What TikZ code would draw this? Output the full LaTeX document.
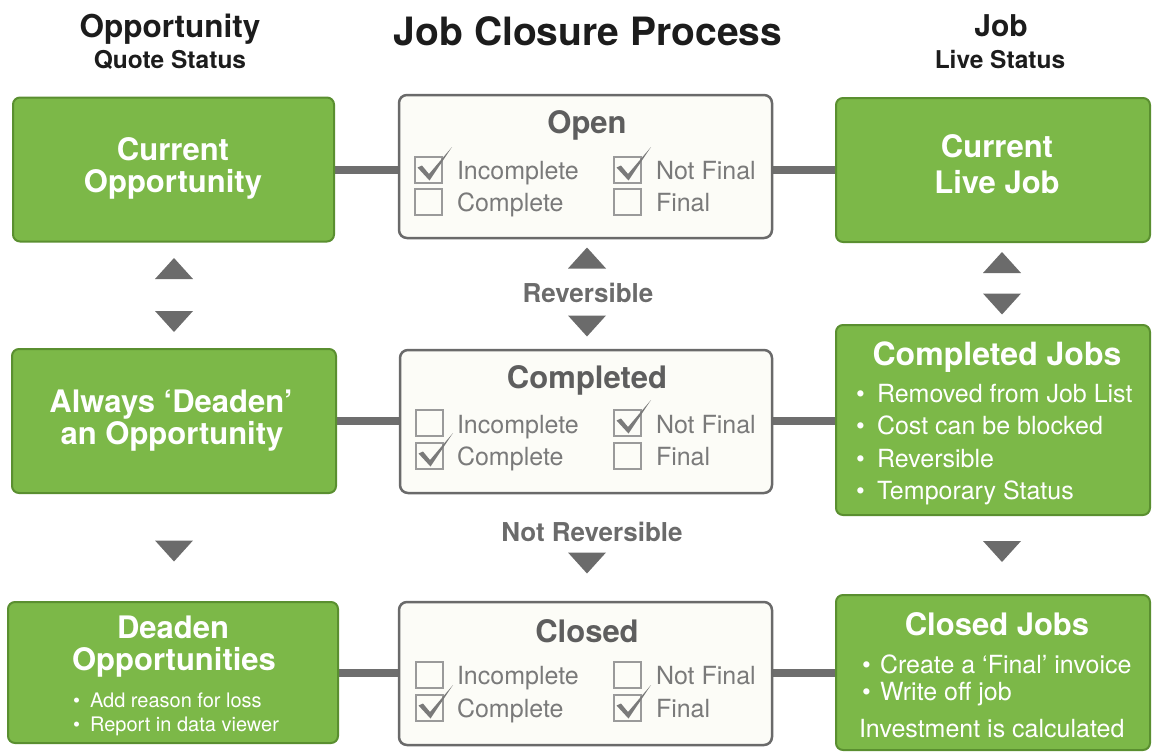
\documentclass[tikz,border=0pt]{standalone}
\usepackage{fontspec}
\setmainfont{TeX Gyre Heros}
\usetikzlibrary{calc}
\definecolor{gfill}{HTML}{7CB848}
\definecolor{gline}{HTML}{5A8F30}
\definecolor{mfill}{HTML}{FCFCF7}
\definecolor{mline}{HTML}{6A6A6A}
\definecolor{conc}{HTML}{6E6E6E}
\definecolor{tric}{HTML}{6B6B6B}
\definecolor{ttlc}{HTML}{5E5E5E}
\definecolor{lblc}{HTML}{7A7A7A}
\definecolor{cbc}{HTML}{9A9A9A}
\definecolor{hdrc}{HTML}{1C1C1C}
\pgfdeclarelayer{bg}
\pgfsetlayers{bg,main}
\newcommand{\fsz}[1]{\fontsize{#1}{#1}\selectfont}
\tikzset{
  gbox/.style={draw=gline, line width=2pt, fill=gfill, rounded corners=7pt, inner sep=0pt, outer sep=0pt},
  mbox/.style={draw=mline, line width=2.5pt, fill=mfill, rounded corners=8pt, inner sep=0pt, outer sep=0pt},
  conn/.style={draw=conc, line width=8pt},
  txt/.style={inner sep=0pt, outer sep=0pt, anchor=base},
  hdr/.style={txt, text=hdrc, font=\bfseries},
  gtitle/.style={txt, text=white, font=\fsz{31}\bfseries},
  gitem/.style={txt, anchor=base west, text=white, font=\fsz{25}},
  mtitle/.style={txt, text=ttlc, font=\fsz{31}\bfseries},
  mlabel/.style={txt, anchor=base west, text=lblc, font=\fsz{25}},
  revlabel/.style={txt, text=tric, font=\fsz{26}\bfseries},
  uptri/.pic={\fill[tric] (-19,10.5) -- (19,10.5) -- (0,-10.5) -- cycle;},
  downtri/.pic={\fill[tric] (-19,-10.5) -- (19,-10.5) -- (0,10.5) -- cycle;},
  emptybox/.pic={\draw[cbc, line width=1.6pt] (0,0) rectangle (27,26);},
  tickbox/.pic={\draw[cbc, line width=1.6pt] (0,0) rectangle (27,26);
     \fill[tric!90] (2.5,10.5) -- (7,8.5) -- (14,17) -- (37,-10) -- (14.5,23.5) -- cycle;}
}
\begin{document}
\begin{tikzpicture}[x=1pt,y=-1pt]
\useasboundingbox (0,0) rectangle (1152,753);
% headers
\node[hdr, font=\fsz{31.5}\bfseries] (hOpp) at (170,37) {Opportunity};
\node[hdr, font=\fsz{24.5}\bfseries] (hOppSub) at (170,68) {Quote Status};
\node[hdr, font=\fsz{39}\bfseries] (hTitle) at (588,45) {Job Closure Process};
\node[hdr, font=\fsz{30}\bfseries] (hJob) at (1001,36) {Job};
\node[hdr, font=\fsz{24.5}\bfseries] (hJobSub) at (1000,68) {Live Status};
% left column boxes
\node[gbox, minimum width=321pt, minimum height=144pt] (curOpp) at (173.5,169.5) {};
\node[gbox, minimum width=324pt, minimum height=144pt] (alwOpp) at (174,421) {};
\node[gbox, minimum width=330pt, minimum height=141pt] (deadOpp) at (173,672.5) {};
% middle boxes
\node[mbox, minimum width=373pt, minimum height=143pt] (open) at (585.5,166.5) {};
\node[mbox, minimum width=372pt, minimum height=143pt] (completed) at (586,421.5) {};
\node[mbox, minimum width=373pt, minimum height=143pt] (closed) at (585.5,673.5) {};
% right column boxes
\node[gbox, minimum width=314pt, minimum height=144pt] (curJob) at (993,170) {};
\node[gbox, minimum width=314pt, minimum height=190pt] (compJobs) at (993,420) {};
\node[gbox, minimum width=314pt, minimum height=155pt] (closedJobs) at (993,672.5) {};
% connectors
\begin{pgfonlayer}{bg}
\draw[conn] (curOpp.center) -- (curOpp.center -| open.center) -- (curOpp.center -| curJob.center);
\draw[conn] (alwOpp.center) -- (alwOpp.center -| completed.center) -- (alwOpp.center -| compJobs.center);
\draw[conn] (deadOpp.center) -- (deadOpp.center -| closed.center) -- (deadOpp.center -| closedJobs.center);
\end{pgfonlayer}
% green texts
\node[gtitle] (t1a) at (173,160) {Current};
\node[gtitle] (t1b) at (173,192) {Opportunity};
\node[gtitle] (t2a) at (171,412) {Always ‘Deaden’};
\node[gtitle] (t2b) at (172,444) {an Opportunity};
\node[gtitle] (t3a) at (173,638) {Deaden};
\node[gtitle] (t3b) at (174,670) {Opportunities};
\node[gitem, font=\fsz{20}] (t3c) at (73,707) {\makebox[17pt][l]{•}Add reason for loss};
\node[gitem, font=\fsz{20}] (t3d) at (73,731) {\makebox[17pt][l]{•}Report in data viewer};
\node[gtitle] (r1a) at (997,157) {Current};
\node[gtitle] (r1b) at (997,193) {Live Job};
\node[gtitle, font=\fsz{32}\bfseries] (r2a) at (997,365) {Completed Jobs};
\node[gitem] (r2b) at (856,402) {\makebox[21pt][l]{•}Removed from Job List};
\node[gitem] (r2c) at (856,434) {\makebox[21pt][l]{•}Cost can be blocked};
\node[gitem] (r2d) at (856,467) {\makebox[21pt][l]{•}Reversible};
\node[gitem] (r2e) at (856,499) {\makebox[21pt][l]{•}Temporary Status};
\node[gtitle] (r3a) at (997,635) {Closed Jobs};
\node[gitem] (r3b) at (862,673) {\makebox[18pt][l]{•}Create a ‘Final’ invoice};
\node[gitem] (r3c) at (862,700) {\makebox[18pt][l]{•}Write off job};
\node[gitem] (r3d) at (859,737) {Investment is calculated};
% middle texts
\node[mtitle] (m1) at (587,133) {Open};
\node[mtitle] (m2) at (587,388) {Completed};
\node[mtitle] (m3) at (587,642) {Closed};
\pic at (415,157) {tickbox};
\pic at (415,189) {emptybox};
\pic at (614,157) {tickbox};
\pic at (614,189) {emptybox};
\node[mlabel] (l1a) at (457,179) {Incomplete};
\node[mlabel] (l1b) at (457,211) {Complete};
\node[mlabel] (l1c) at (656,179) {Not Final};
\node[mlabel] (l1d) at (656,211) {Final};
\pic at (416,410) {emptybox};
\pic at (416,443) {tickbox};
\pic at (614,410) {tickbox};
\pic at (614,443) {emptybox};
\node[mlabel] (l2a) at (457,433) {Incomplete};
\node[mlabel] (l2b) at (457,465) {Complete};
\node[mlabel] (l2c) at (656,433) {Not Final};
\node[mlabel] (l2d) at (656,465) {Final};
\pic at (416,662) {emptybox};
\pic at (416,695) {tickbox};
\pic at (614,662) {emptybox};
\pic at (614,695) {tickbox};
\node[mlabel] (l3a) at (457,684) {Incomplete};
\node[mlabel] (l3b) at (457,717) {Complete};
\node[mlabel] (l3c) at (656,684) {Not Final};
\node[mlabel] (l3d) at (656,717) {Final};
% arrows
\pic at (174,268.5) {uptri};
\pic at (174,321.5) {downtri};
\pic at (174,551) {downtri};
\pic at (587,258) {uptri};
\pic at (587,326) {downtri};
\pic at (587,563) {downtri};
\pic at (1002,262.5) {uptri};
\pic at (1002,304) {downtri};
\pic at (1002,551.5) {downtri};
\node[revlabel] (rev) at (588,302) {Reversible};
\node[revlabel] (notrev) at (592,541) {Not Reversible};
\end{tikzpicture}
\end{document}
